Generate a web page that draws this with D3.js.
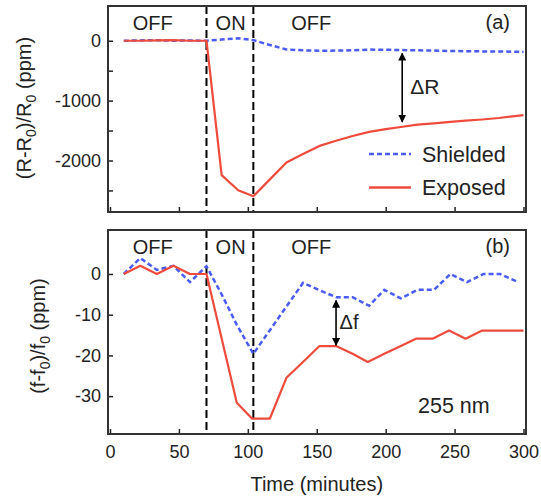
<!DOCTYPE html>
<html>
<head>
<meta charset="utf-8">
<script src="https://cdn.jsdelivr.net/npm/d3@7/dist/d3.min.js"></script>
<style>
  html, body { margin: 0; padding: 0; background: #fff; }
  svg { display: block; font-family: "Liberation Sans", Arial, Helvetica, sans-serif; }
</style>
</head>
<body>
<svg id="chart" width="541" height="499"></svg>
<script>
// ---------------- data ----------------
const timeA = [10, 22, 34, 46, 58, 70, 81, 93, 104, 116, 128, 140, 152, 164, 176, 188, 200, 211, 223, 235, 247, 258, 270, 282, 300];
const shieldedA = [0, 5, 10, 0, 5, 0, 20, 40, 10, -72, -145, -160, -167, -165, -160, -148, -150, -155, -160, -165, -172, -175, -178, -180, -185];
const exposedA = [0, 0, 5, 10, 0, 0, -2245, -2497, -2597, -2315, -2033, -1890, -1756, -1670, -1590, -1522, -1475, -1440, -1400, -1380, -1355, -1335, -1315, -1290, -1242];

const timeShieldedB = [10, 22, 34, 46, 58, 70, 81, 92, 104, 116, 128, 140, 152, 164, 176, 188, 199, 211, 223, 235, 247, 259, 271, 283, 296];
const shieldedB = [0, 3.9, 1, 2, -2, 1.9, -5, -12.5, -19.6, -13.8, -8, -2.2, -4, -5.7, -5.7, -7.8, -3.9, -6, -3.9, -3.9, 0, -2, 0, 0, -2];
const timeExposedB = [10, 22, 34, 46, 58, 70, 92, 103, 116, 128, 140, 152, 164, 176, 187, 199, 211, 222, 234, 246, 258, 270, 282, 300];
const exposedB = [0, 2, 0, 2, 0, 0, -31.6, -35.5, -35.5, -25.5, -21.6, -17.7, -17.7, -19.6, -21.6, -19.6, -17.7, -15.9, -15.9, -13.9, -15.9, -13.9, -13.9, -13.9];

const xTicks = [0, 50, 100, 150, 200, 250, 300];
const yTicksA = [0, -1000, -2000];
const yMinorA = [-500, -1500, -2500];
const yTicksB = [0, -10, -20, -30];
const switchTimes = [70, 104];
const phaseLabels = [{t: 31, s: "OFF"}, {t: 87.5, s: "ON"}, {t: 146, s: "OFF"}];
const arrowA = {t: 212, from: -210, to: -1355};
const arrowB = {t: 164, from: -6.5, to: -17.5};

// ---------------- layout ----------------
const svg = d3.select("#chart");
const RED = "#ef4b3d", BLUE = "#4a5cf5", INK = "#222";
const frameL = 108, frameR = 526;
const x = d3.scaleLinear().domain([0, 300]).range([110, 523.5]);
const panels = [
  {top: 6, bottom: 212, y: d3.scaleLinear().domain([-2860, 580]).range([212, 6])},
  {top: 230, bottom: 434, y: d3.scaleLinear().domain([-39.3, 10.8]).range([434, 230])}
];
const pa = panels[0], pb = panels[1];

svg.append("defs").append("marker")
  .attr("id", "ah").attr("viewBox", "0 0 10 10").attr("refX", 9).attr("refY", 5)
  .attr("markerWidth", 5).attr("markerHeight", 5).attr("orient", "auto-start-reverse")
  .append("path").attr("d", "M0,0 L10,5 L0,10 z").attr("fill", "#000");

function styleAxis(g) {
  g.select(".domain").remove();
  g.selectAll(".tick line").attr("stroke", INK).attr("stroke-width", 1.5);
  g.selectAll(".tick text").attr("fill", INK).attr("font-size", 18);
}

panels.forEach((p, i) => {
  const g = svg.append("g");
  // switch lines
  switchTimes.forEach(t => {
    g.append("line").attr("x1", x(t)).attr("x2", x(t)).attr("y1", p.top).attr("y2", p.bottom)
      .attr("stroke", "#000").attr("stroke-width", 2).attr("stroke-dasharray", "8,4");
  });
  // x axis ticks
  const xa = g.append("g").attr("transform", `translate(0,${p.bottom})`)
    .call(d3.axisBottom(x).tickValues(xTicks).tickSize(-5).tickPadding(11)
      .tickFormat(i === 1 ? d => String(d) : ""));
  styleAxis(xa);
  // y axis ticks
  const ya = g.append("g").attr("transform", `translate(${frameL},0)`)
    .call(d3.axisLeft(p.y).tickValues(i === 0 ? yTicksA : yTicksB).tickSize(-5).tickPadding(7)
      .tickFormat(d => String(d)));
  styleAxis(ya);
  if (i === 0) {
    const ym = g.append("g").attr("transform", `translate(${frameL},0)`)
      .call(d3.axisLeft(p.y).tickValues(yMinorA).tickSize(-5).tickFormat(""));
    styleAxis(ym);
  }
  // frame
  g.append("rect").attr("x", frameL).attr("y", p.top).attr("width", frameR - frameL).attr("height", p.bottom - p.top)
    .attr("fill", "none").attr("stroke", "#333").attr("stroke-width", 2);
  // phase labels
  phaseLabels.forEach(d => {
    g.append("text").attr("x", x(d.t)).attr("y", p.top + 24).attr("text-anchor", "middle")
      .attr("font-size", 20).attr("fill", INK).text(d.s);
  });
  g.append("text").attr("x", 510).attr("y", p.top + 22.5).attr("text-anchor", "end")
    .attr("font-size", 20).attr("fill", INK).text(i === 0 ? "(a)" : "(b)");
});

// lines
const lineA = (ts) => d3.line().x((d, k) => x(ts[k])).y(d => pa.y(d));
const lineB = (ts) => d3.line().x((d, k) => x(ts[k])).y(d => pb.y(d));

svg.append("path").datum(shieldedA).attr("d", lineA(timeA)).attr("fill", "none")
  .attr("stroke", BLUE).attr("stroke-width", 2.5).attr("stroke-dasharray", "5,3");
svg.append("path").datum(exposedA).attr("d", lineA(timeA)).attr("fill", "none")
  .attr("stroke", RED).attr("stroke-width", 2.2).attr("stroke-linejoin", "round");
svg.append("path").datum(shieldedB).attr("d", lineB(timeShieldedB)).attr("fill", "none")
  .attr("stroke", BLUE).attr("stroke-width", 2.5).attr("stroke-dasharray", "5,3");
svg.append("path").datum(exposedB).attr("d", lineB(timeExposedB)).attr("fill", "none")
  .attr("stroke", RED).attr("stroke-width", 2.2).attr("stroke-linejoin", "round");

// arrows
[[arrowA, pa, "ΔR", 8, 94], [arrowB, pb, "Δf", 3.5, 329]].forEach(([a, p, label, dx, by]) => {
  svg.append("line").attr("x1", x(a.t)).attr("x2", x(a.t)).attr("y1", p.y(a.from)).attr("y2", p.y(a.to))
    .attr("stroke", "#000").attr("stroke-width", 1.6)
    .attr("marker-start", "url(#ah)").attr("marker-end", "url(#ah)");
  svg.append("text").attr("x", x(a.t) + dx).attr("y", by).attr("font-size", label === "ΔR" ? 21 : 20)
    .attr("fill", INK).text(label);
});

// legend
const legend = [{s: "Shielded", c: BLUE, dash: "5,3", y: 154}, {s: "Exposed", c: RED, dash: null, y: 187.5}];
legend.forEach(d => {
  svg.append("line").attr("x1", 369).attr("x2", 411).attr("y1", d.y).attr("y2", d.y)
    .attr("stroke", d.c).attr("stroke-width", 2.5).attr("stroke-dasharray", d.dash);
  svg.append("text").attr("x", 422).attr("y", d.y + 7.5).attr("font-size", 21.5).attr("fill", INK).text(d.s);
});

svg.append("text").attr("x", 418).attr("y", 413).attr("font-size", 21.5).attr("fill", INK).text("255 nm");

// axis titles
svg.append("text").attr("x", x(150)).attr("y", 491).attr("text-anchor", "middle")
  .attr("font-size", 20).attr("fill", INK).text("Time (minutes)");

function yTitle(cx, cy, parts) {
  const t = svg.append("text").attr("transform", `translate(${cx},${cy}) rotate(-90)`)
    .attr("text-anchor", "middle").attr("font-size", 20).attr("fill", INK);
  parts.forEach(([s, sub]) => {
    if (sub) t.append("tspan").attr("font-size", 14).attr("dy", 5).text(s);
    else t.append("tspan").attr("dy", 0).text(s);
  });
  // fix dy after subscripts
  t.selectAll("tspan").each(function(d, k, nodes) {
    const prevSub = k > 0 && nodes[k - 1].getAttribute("font-size") === "14";
    if (prevSub) d3.select(this).attr("dy", -5);
  });
}
yTitle(31, 108, [["(R-R", false], ["0", true], [")/R", false], ["0", true], [" (ppm)", false]]);
yTitle(45, 336, [["(f-f", false], ["0", true], [")/f", false], ["0", true], [" (ppm)", false]]);
</script>
</body>
</html>
